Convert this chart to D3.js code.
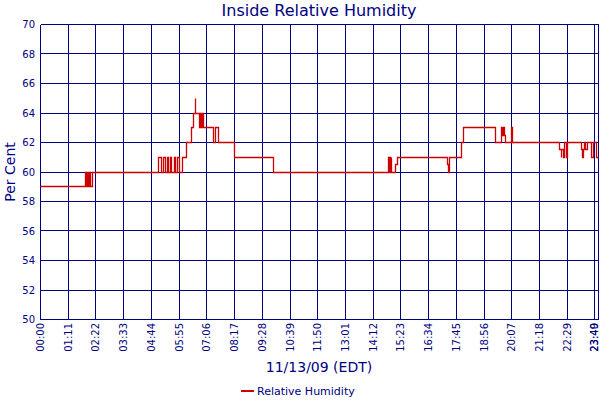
<!DOCTYPE html>
<html>
<head>
<meta charset="utf-8">
<script src="https://cdn.jsdelivr.net/npm/d3@7"></script>
<style>
  html, body { margin: 0; padding: 0; background: #fff; }
  svg { display: block; font-family: "DejaVu Sans", Verdana, sans-serif; }
</style>
</head>
<body>
<svg id="chart" width="600" height="400"></svg>
<script>
// ---- data ----
const title = "Inside Relative Humidity";
const xTitle = "11/13/09 (EDT)";
const yTitle = "Per Cent";
const seriesName = "Relative Humidity";

const xTickLabels = ["00:00","01:11","02:22","03:33","04:44","05:55","07:06","08:17","09:28","10:39",
  "11:50","13:01","14:12","15:23","16:34","17:45","18:56","20:07","21:18","22:29","23:40","23:49"];
const yTickValues = [50,52,54,56,58,60,62,64,66,68,70];

// time of each reading change (HH:MM) and humidity from that time on
const readingTimes = ["00:00","01:56","01:59","02:01","02:03","02:05","02:08","02:12",
  "05:03","05:10","05:16","05:20","05:24","05:27","05:33","05:36","05:43","05:47","05:50","05:57","06:03",
  "06:15","06:26","06:31","06:37","06:38","06:47","06:49","06:52","06:54","06:57",
  "07:24","07:29","07:37","08:18","09:56",
  "14:51","14:53","14:55","14:57","14:59","15:00","15:10","15:13",
  "17:22","17:24","17:27","17:57","18:02","19:24","19:41","19:44","19:46","19:49","19:51","20:05","20:09",
  "22:10","22:13","22:15","22:20","22:23","22:26","22:30",
  "23:06","23:09","23:11","23:13","23:15","23:20","23:30","23:35","23:44","23:49"];
const humidity = [59,60,59,60,59,60,59,60,
  61,60,61,60,61,60,61,60,61,60,61,60,61,
  62,63,64,65,64,63,64,63,64,63,
  62,63,62,61,60,
  61,60,61,60,61,60,60.5,61,
  60.5,60,61,62,63,62,63,62.5,63,62.5,62,63,62,
  61.5,61,61.5,61,62,61,62,
  61.5,61,61.5,62,61.5,62,61,62,61,61];

// ---- drawing ----
const toMin = s => { const p = s.split(":"); return +p[0]*60 + +p[1]; };
const data = readingTimes.map((t,i) => ({ t: toMin(t), v: humidity[i] }));

const svg = d3.select("#chart");
const navy = "#000080";
const plotLeft = 40, plotRight = 598, plotTop = 24, plotBottom = 319;

const x = d3.scaleLinear().domain([0, toMin(xTickLabels[xTickLabels.length-1])]).range([plotLeft, plotRight]);
const y = d3.scaleLinear().domain([50, 70]).range([plotBottom, plotTop]);
const px = v => Math.round(v) + 0.5;

// grid
const g = svg.append("g").attr("shape-rendering", "crispEdges");
g.selectAll("line.v").data(xTickLabels).join("line").attr("class", "v")
  .attr("x1", d => px(x(toMin(d)))).attr("x2", d => px(x(toMin(d))))
  .attr("y1", px(y(70))).attr("y2", px(y(50)))
  .attr("stroke", navy).attr("stroke-width", 1);
g.selectAll("line.h").data(yTickValues).join("line").attr("class", "h")
  .attr("x1", px(x(0))).attr("x2", px(plotRight))
  .attr("y1", d => px(y(d))).attr("y2", d => px(y(d)))
  .attr("stroke", navy).attr("stroke-width", 1);

// series
const line = d3.line().curve(d3.curveStepAfter)
  .x(d => px(x(d.t))).y(d => px(y(d.v)));
svg.append("path").datum(data)
  .attr("d", line).attr("fill", "none")
  .attr("stroke", "#cc0000").attr("stroke-width", 1.3);

// y tick labels
svg.append("g").selectAll("text").data(yTickValues).join("text")
  .attr("x", 35).attr("y", d => y(d) + 4)
  .attr("text-anchor", "end").attr("font-size", 10).attr("fill", navy)
  .text(d => d);

// x tick labels (rotated)
svg.append("g").selectAll("text").data(xTickLabels).join("text")
  .attr("transform", d => `translate(${Math.min(x(toMin(d)) + 4, 597.5)},323) rotate(-90)`)
  .attr("text-anchor", "end").attr("font-size", 10).attr("fill", navy)
  .text(d => d);

// titles
svg.append("text").attr("x", 319).attr("y", 16).attr("text-anchor", "middle")
  .attr("font-size", 16).attr("fill", navy).text(title);
svg.append("text").attr("x", 319).attr("y", 372).attr("text-anchor", "middle")
  .attr("font-size", 14).attr("fill", navy).text(xTitle);
svg.append("text").attr("transform", "translate(15,172) rotate(-90)").attr("text-anchor", "middle")
  .attr("font-size", 14).attr("fill", navy).text(yTitle);

// legend
svg.append("line").attr("x1", 241).attr("x2", 254).attr("y1", 391).attr("y2", 391)
  .attr("stroke", "#cc0000").attr("stroke-width", 2);
svg.append("text").attr("x", 257).attr("y", 395).attr("font-size", 11).attr("fill", navy)
  .text(seriesName);
</script>
</body>
</html>
